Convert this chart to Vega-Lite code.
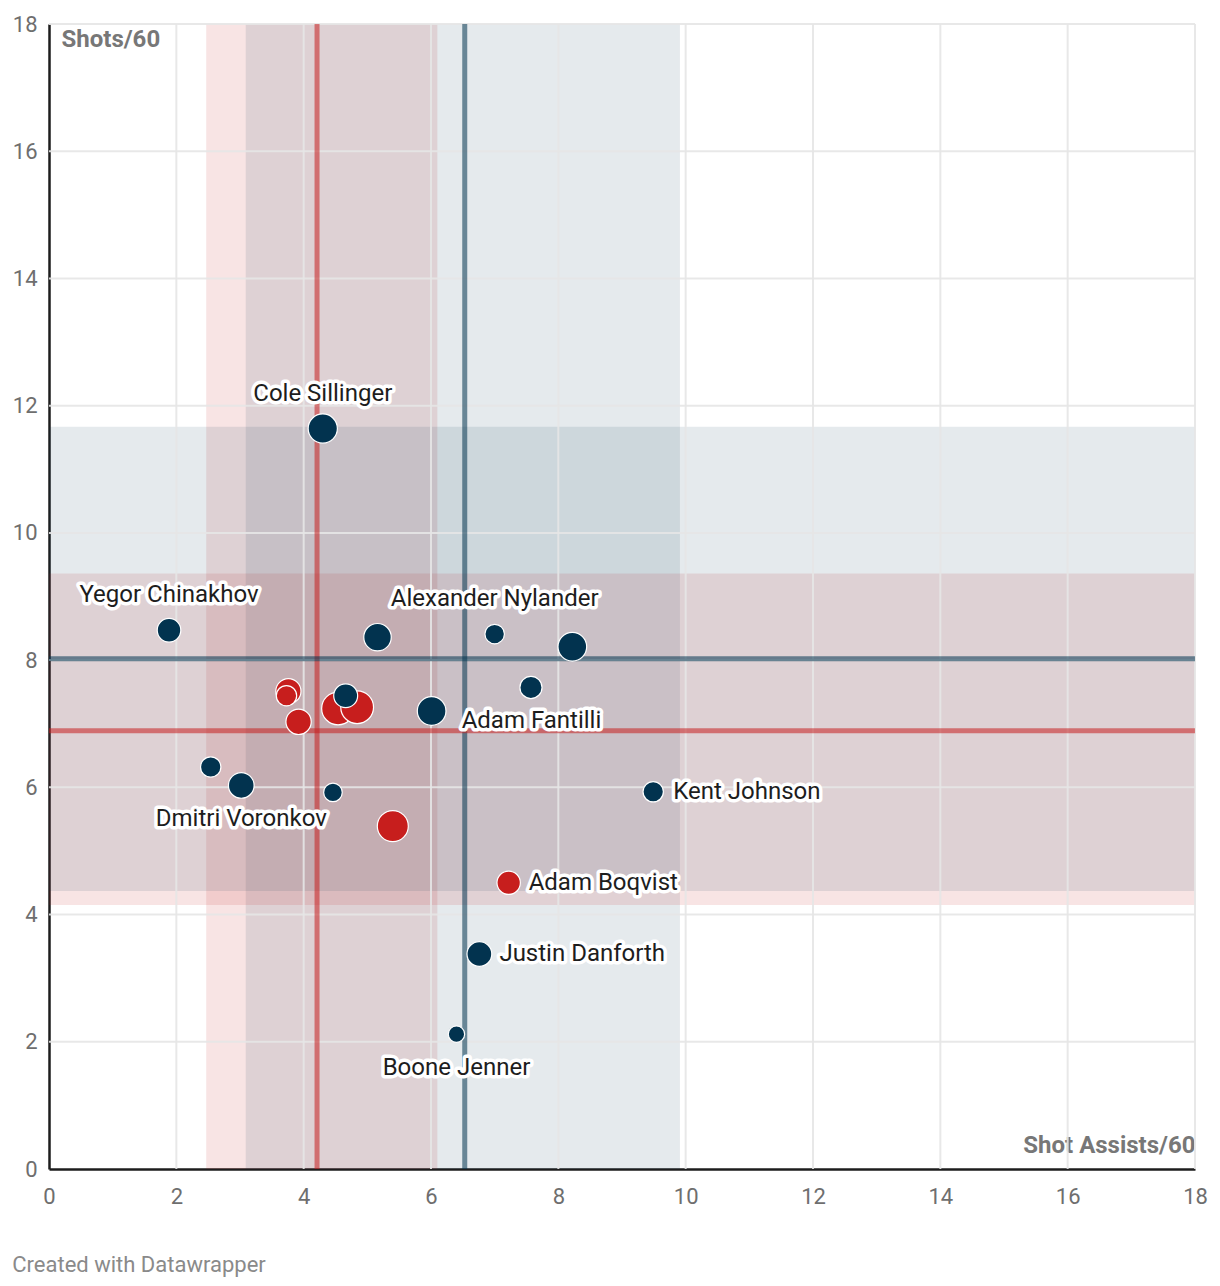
{
  "$schema": "https://vega.github.io/schema/vega-lite/v6.json",
  "width": 1146,
  "height": 1145,
  "autosize": {"type": "none"},
  "padding": {"left": 49, "top": 24, "right": 25, "bottom": 117},
  "background": "white",
  "title": {"text": "Created with Datawrapper", "orient": "bottom", "anchor": "start", "frame": "bounds", "font": "Roboto", "fontSize": 22, "fontWeight": "normal", "color": "#8a8a8a", "offset": 48},
  "config": {
    "view": {"stroke": null},
    "font": "Roboto",
    "axis": {"grid": false, "ticks": false, "domainColor": "#1d1d1d", "domainWidth": 2.5, "labelFont": "Roboto", "labelFontSize": 22, "labelColor": "#6e6e6e", "labelFlush": false, "labelOverlap": false, "format": "d", "titleFont": "Roboto", "titleFontSize": 24, "titleFontWeight": "bold", "titleColor": "#777777", "zindex": 1}
  },
  "datasets": {
    "players": [
      {"name": "Cole Sillinger", "pos": "F", "sa60": 4.30, "s60": 11.64, "toi": 272},
      {"name": "Yegor Chinakhov", "pos": "F", "sa60": 1.885, "s60": 8.47, "toi": 177},
      {"name": "", "pos": "F", "sa60": 5.16, "s60": 8.36, "toi": 240},
      {"name": "Alexander Nylander", "pos": "F", "sa60": 7.00, "s60": 8.41, "toi": 121},
      {"name": "", "pos": "F", "sa60": 8.22, "s60": 8.21, "toi": 262},
      {"name": "", "pos": "F", "sa60": 7.57, "s60": 7.57, "toi": 156},
      {"name": "", "pos": "F", "sa60": 4.66, "s60": 7.44, "toi": 182},
      {"name": "Adam Fantilli", "pos": "F", "sa60": 6.01, "s60": 7.20, "toi": 262},
      {"name": "", "pos": "F", "sa60": 2.54, "s60": 6.32, "toi": 132},
      {"name": "Dmitri Voronkov", "pos": "F", "sa60": 3.02, "s60": 6.03, "toi": 210},
      {"name": "", "pos": "F", "sa60": 4.46, "s60": 5.92, "toi": 110},
      {"name": "Kent Johnson", "pos": "F", "sa60": 9.49, "s60": 5.93, "toi": 132},
      {"name": "Justin Danforth", "pos": "F", "sa60": 6.76, "s60": 3.38, "toi": 196},
      {"name": "Boone Jenner", "pos": "F", "sa60": 6.40, "s60": 2.12, "toi": 85},
      {"name": "", "pos": "D", "sa60": 3.76, "s60": 7.51, "toi": 202},
      {"name": "", "pos": "D", "sa60": 3.73, "s60": 7.44, "toi": 132},
      {"name": "", "pos": "D", "sa60": 3.92, "s60": 7.03, "toi": 204},
      {"name": "", "pos": "D", "sa60": 4.54, "s60": 7.24, "toi": 342},
      {"name": "", "pos": "D", "sa60": 4.84, "s60": 7.26, "toi": 342},
      {"name": "", "pos": "D", "sa60": 5.40, "s60": 5.39, "toi": 306},
      {"name": "Adam Boqvist", "pos": "D", "sa60": 7.22, "s60": 4.50, "toi": 174}
    ],
    "stats": [
      {"pos": "D", "xLo": 2.47, "xHi": 6.10, "xMean": 4.21, "yLo": 4.15, "yHi": 9.36, "yMean": 6.89},
      {"pos": "F", "xLo": 3.09, "xHi": 9.91, "xMean": 6.53, "yLo": 4.37, "yHi": 11.67, "yMean": 8.02}
    ],
    "grid": [
      {"v": 2}, {"v": 4}, {"v": 6}, {"v": 8}, {"v": 10}, {"v": 12}, {"v": 14}, {"v": 16}, {"v": 18}
    ]
  },
  "layer": [
    {
      "data": {"name": "stats"},
      "mark": {"type": "rect"},
      "encoding": {
        "x": {"field": "xLo", "type": "quantitative", "scale": {"domain": [0, 18], "nice": false},
              "axis": {"values": [0, 2, 4, 6, 8, 10, 12, 14, 16, 18], "format": "d", "title": "Shot Assists/60", "titleAnchor": "end", "titleAlign": "right", "titleBaseline": "bottom", "titleX": 1146, "titleY": -12, "labelPadding": 17}},
        "x2": {"field": "xHi"},
        "color": {"field": "pos", "type": "nominal", "scale": {"domain": ["F", "D"], "range": ["#02334f", "#c71e1d"]}, "legend": null},
        "opacity": {"field": "pos", "type": "nominal", "scale": {"domain": ["F", "D"], "range": [0.1, 0.12]}, "legend": null}
      }
    },
    {
      "data": {"name": "stats"},
      "mark": {"type": "rect"},
      "encoding": {
        "y": {"field": "yLo", "type": "quantitative", "scale": {"domain": [0, 18], "nice": false},
              "axis": {"values": [0, 2, 4, 6, 8, 10, 12, 14, 16, 18], "format": "d", "title": "Shots/60", "titleAngle": 0, "titleAnchor": "end", "titleAlign": "left", "titleBaseline": "top", "titleX": 12, "titleY": 3, "labelPadding": 12}},
        "y2": {"field": "yHi"},
        "color": {"field": "pos", "type": "nominal", "scale": {"domain": ["F", "D"], "range": ["#02334f", "#c71e1d"]}, "legend": null},
        "opacity": {"field": "pos", "type": "nominal", "scale": {"domain": ["F", "D"], "range": [0.1, 0.12]}, "legend": null}
      }
    },
    {
      "data": {"name": "grid"},
      "mark": {"type": "rule", "color": "#e6e6e6", "strokeWidth": 2, "opacity": 0.9},
      "encoding": {"x": {"field": "v", "type": "quantitative", "title": "Shot Assists/60"}}
    },
    {
      "data": {"name": "grid"},
      "mark": {"type": "rule", "color": "#e6e6e6", "strokeWidth": 2, "opacity": 0.9},
      "encoding": {"y": {"field": "v", "type": "quantitative", "title": "Shots/60"}}
    },
    {
      "data": {"name": "stats"},
      "mark": {"type": "rule", "strokeWidth": 5, "opacity": 0.55},
      "encoding": {
        "x": {"field": "xMean", "type": "quantitative", "title": "Shot Assists/60"},
        "color": {"field": "pos", "type": "nominal", "legend": null}
      }
    },
    {
      "data": {"name": "stats"},
      "mark": {"type": "rule", "strokeWidth": 5, "opacity": 0.55},
      "encoding": {
        "y": {"field": "yMean", "type": "quantitative", "title": "Shots/60"},
        "color": {"field": "pos", "type": "nominal", "legend": null}
      }
    },
    {
      "data": {"name": "players"},
      "mark": {"type": "point", "filled": true, "opacity": 1, "stroke": "white", "strokeWidth": 1.2, "strokeOpacity": 1},
      "encoding": {
        "x": {"field": "sa60", "type": "quantitative", "title": "Shot Assists/60"},
        "y": {"field": "s60", "type": "quantitative", "title": "Shots/60"},
        "color": {"field": "pos", "type": "nominal", "legend": null},
        "size": {"field": "toi", "type": "quantitative", "scale": {"domain": [0, 400], "range": [0, 1257]}, "legend": null},
        "order": {"field": "toi", "sort": "descending"}
      }
    },
    {
      "data": {"name": "players"},
      "transform": [{"filter": {"field": "name", "oneOf": ["Cole Sillinger", "Yegor Chinakhov", "Alexander Nylander"]}}],
      "layer": [
        {"mark": {"type": "text", "font": "Roboto", "fontSize": 24, "dy": -35, "baseline": "middle", "align": "center", "stroke": "white", "strokeWidth": 7, "strokeJoin": "round", "fill": "white"}},
        {"mark": {"type": "text", "font": "Roboto", "fontSize": 24, "dy": -35, "baseline": "middle", "align": "center", "fill": "#1d1d1d"}}
      ],
      "encoding": {
        "x": {"field": "sa60", "type": "quantitative", "title": "Shot Assists/60"},
        "y": {"field": "s60", "type": "quantitative", "title": "Shots/60"},
        "text": {"field": "name"}
      }
    },
    {
      "data": {"name": "players"},
      "transform": [{"filter": {"field": "name", "oneOf": ["Dmitri Voronkov", "Boone Jenner"]}}],
      "layer": [
        {"mark": {"type": "text", "font": "Roboto", "fontSize": 24, "dy": 34, "baseline": "middle", "align": "center", "stroke": "white", "strokeWidth": 7, "strokeJoin": "round", "fill": "white"}},
        {"mark": {"type": "text", "font": "Roboto", "fontSize": 24, "dy": 34, "baseline": "middle", "align": "center", "fill": "#1d1d1d"}}
      ],
      "encoding": {
        "x": {"field": "sa60", "type": "quantitative", "title": "Shot Assists/60"},
        "y": {"field": "s60", "type": "quantitative", "title": "Shots/60"},
        "text": {"field": "name"}
      }
    },
    {
      "data": {"name": "players"},
      "transform": [{"filter": {"field": "name", "oneOf": ["Kent Johnson", "Adam Boqvist", "Justin Danforth"]}}],
      "layer": [
        {"mark": {"type": "text", "font": "Roboto", "fontSize": 24, "dx": 20, "baseline": "middle", "align": "left", "stroke": "white", "strokeWidth": 7, "strokeJoin": "round", "fill": "white"}},
        {"mark": {"type": "text", "font": "Roboto", "fontSize": 24, "dx": 20, "baseline": "middle", "align": "left", "fill": "#1d1d1d"}}
      ],
      "encoding": {
        "x": {"field": "sa60", "type": "quantitative", "title": "Shot Assists/60"},
        "y": {"field": "s60", "type": "quantitative", "title": "Shots/60"},
        "text": {"field": "name"}
      }
    },
    {
      "data": {"name": "players"},
      "transform": [{"filter": {"field": "name", "equal": "Adam Fantilli"}}],
      "layer": [
        {"mark": {"type": "text", "font": "Roboto", "fontSize": 24, "dx": 30, "dy": 10, "baseline": "middle", "align": "left", "stroke": "white", "strokeWidth": 7, "strokeJoin": "round", "fill": "white"}},
        {"mark": {"type": "text", "font": "Roboto", "fontSize": 24, "dx": 30, "dy": 10, "baseline": "middle", "align": "left", "fill": "#1d1d1d"}}
      ],
      "encoding": {
        "x": {"field": "sa60", "type": "quantitative", "title": "Shot Assists/60"},
        "y": {"field": "s60", "type": "quantitative", "title": "Shots/60"},
        "text": {"field": "name"}
      }
    }
  ]
}
